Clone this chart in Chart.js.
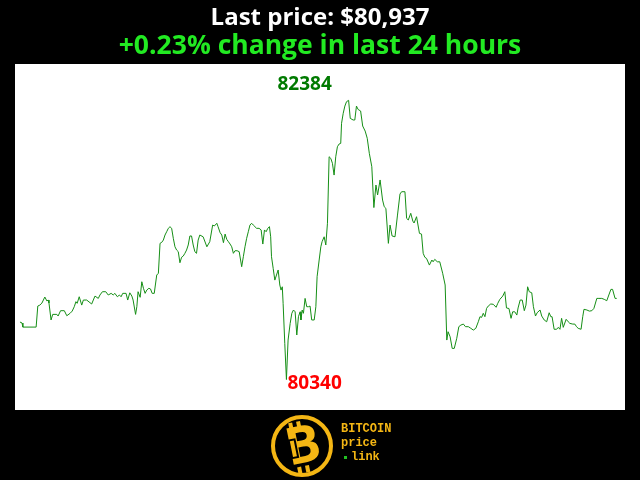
<!DOCTYPE html>
<html>
<head>
<meta charset="utf-8">
<script src="https://cdn.jsdelivr.net/npm/chart.js@4/dist/chart.umd.min.js"></script>
<style>
  html, body { margin: 0; padding: 0; background: #000; }
  #wrap { width: 640px; height: 480px; }
</style>
</head>
<body>
<div id="wrap"><canvas id="priceChart" width="640" height="480"></canvas></div>
<script>
// minutes since start of the 24h window
const minutes = [
    0, 5, 7, 39, 43, 48, 53, 60, 65, 68, 70, 75, 79, 89, 92, 98, 107, 113, 121, 126,
    131, 135, 138, 143, 149, 153, 161, 173, 181, 189, 193, 199, 207, 213, 220, 225, 229, 235, 240, 244,
    248, 256, 260, 265, 270, 273, 279, 282, 285, 290, 294, 298, 302, 306, 311, 315, 319, 324, 330, 334,
    338, 342, 346, 350, 354, 358, 362, 366, 370, 374, 378, 382, 386, 390, 394, 398, 402, 406, 410, 414,
    418, 422, 426, 430, 434, 442, 451, 458, 465, 469, 475, 478, 483, 487, 491, 495, 499, 503, 507, 511,
    515, 519, 524, 529, 535, 539, 543, 547, 551, 555, 559, 563, 567, 571, 577, 582, 586, 590, 594, 598,
    602, 605, 607, 611, 615, 619, 623, 627, 630, 633, 635, 639, 643, 647, 652, 656, 660, 664, 668, 672,
    676, 678, 681, 684, 688, 692, 696, 700, 704, 710, 714, 717, 722, 726, 729, 734, 738, 742, 746, 750,
    754, 758, 762, 766, 770, 774, 776, 780, 784, 788, 793, 797, 804, 808, 812, 816, 822, 827, 833, 838,
    843, 849, 854, 859, 863, 869, 875, 879, 883, 889, 893, 898, 905, 911, 917, 921, 929, 933, 937, 943,
    948, 951, 957, 964, 969, 973, 977, 981, 988, 994, 997, 1001, 1007, 1013, 1020, 1026, 1030, 1033, 1038, 1043,
    1048, 1054, 1059, 1064, 1070, 1075, 1082, 1088, 1094, 1100, 1106, 1110, 1114, 1118, 1122, 1126, 1130, 1136, 1142, 1149,
    1153, 1158, 1165, 1170, 1174, 1180, 1185, 1189, 1194, 1199, 1202, 1207, 1212, 1217, 1221, 1225, 1229, 1235, 1239, 1244,
    1248, 1255, 1259, 1265, 1271, 1277, 1281, 1284, 1289, 1295, 1299, 1303, 1307, 1311, 1318, 1323, 1327, 1334, 1339, 1343,
    1347, 1354, 1358, 1361, 1368, 1374, 1380, 1385, 1392, 1397, 1404, 1410, 1416, 1421, 1426, 1430, 1436, 1440
];

// BTC price in USD
const prices = [
    80761, 80754, 80724, 80724, 80878, 80885, 80900, 80944, 80915, 80922, 80900, 80776, 80817, 80817, 80805, 80844, 80844, 80807, 80825, 80841,
    80873, 80910, 80898, 80946, 80885, 80922, 80922, 80893, 80951, 80934, 80959, 80983, 80983, 80959, 80971, 80959, 80971, 80946, 80959, 80946,
    80971, 80971, 80922, 80975, 80951, 80922, 80817, 80873, 80983, 80942, 81056, 81008, 80971, 80995, 81008, 81003, 80971, 80971, 81105, 81118,
    81337, 81344, 81361, 81398, 81422, 81447, 81459, 81447, 81374, 81312, 81288, 81276, 81195, 81235, 81244, 81264, 81288, 81325, 81391, 81391,
    81325, 81276, 81264, 81361, 81398, 81385, 81312, 81349, 81471, 81464, 81484, 81459, 81415, 81398, 81342, 81405, 81366, 81349, 81332, 81312,
    81264, 81283, 81283, 81276, 81166, 81239, 81312, 81374, 81422, 81471, 81484, 81471, 81459, 81447, 81447, 81435, 81332, 81435, 81422, 81447,
    81459, 81385, 81239, 81154, 81068, 81105, 81142, 81032, 80995, 81019, 80898, 80605, 80340, 80629, 80751, 80825, 80849, 80836, 80666, 80800,
    80836, 80776, 80849, 80825, 80934, 80873, 80873, 80878, 80776, 80776, 80873, 81093, 81215, 81312, 81349, 81385, 81325, 81484, 81971, 81959,
    81923, 81837, 81971, 82044, 82064, 82069, 82216, 82289, 82342, 82374, 82384, 82252, 82240, 82240, 82342, 82317, 82306, 82196, 82159, 82106,
    81996, 81898, 81599, 81764, 81691, 81801, 81654, 81605, 81593, 81337, 81471, 81391, 81385, 81544, 81698, 81715, 81715, 81520, 81508, 81557,
    81500, 81486, 81532, 81410, 81405, 81264, 81235, 81227, 81178, 81215, 81202, 81220, 81202, 81202, 81118, 81032, 80629, 80690, 80653, 80568,
    80568, 80642, 80727, 80739, 80746, 80727, 80727, 80715, 80702, 80715, 80763, 80800, 80795, 80825, 80800, 80861, 80878, 80893, 80891, 80869,
    80898, 80927, 80951, 80983, 80864, 80860, 80788, 80836, 80836, 80812, 80864, 80922, 80922, 80844, 80885, 81019, 80983, 80975, 80873, 80805,
    80829, 80849, 80805, 80776, 80763, 80829, 80800, 80800, 80708, 80708, 80722, 80708, 80788, 80722, 80781, 80763, 80751, 80746, 80746, 80727,
    80715, 80708, 80800, 80854, 80849, 80841, 80844, 80861, 80934, 80934, 80934, 80927, 80917, 80959, 81000, 81000, 80934, 80934
];

const titleText = 'Last price: $80,937';
const subtitleText = '+0.23% change in last 24 hours';

Chart.defaults.font.family = "'Open Sans', sans-serif";

// black page, white plot box
const backgroundPlugin = {
    id: 'background',
    beforeDraw(chart) {
        const { ctx, chartArea } = chart;
        ctx.save();
        ctx.fillStyle = '#000000';
        ctx.fillRect(0, 0, chart.width, chart.height);
        ctx.fillStyle = '#ffffff';
        ctx.fillRect(chartArea.left, chartArea.top, chartArea.right - chartArea.left, chartArea.bottom - chartArea.top);
        ctx.restore();
    }
};

// high / low labels
const extremesPlugin = {
    id: 'extremes',
    afterDatasetsDraw(chart) {
        const { ctx, scales } = chart;
        let hi = 0, lo = 0;
        prices.forEach((p, i) => {
            if (p > prices[hi]) hi = i;
            if (p < prices[lo]) lo = i;
        });
        ctx.save();
        ctx.font = "bold 19px 'Open Sans', sans-serif";
        ctx.textBaseline = 'middle';

        ctx.fillStyle = '#007a00';
        ctx.textAlign = 'center';
        ctx.fillText(String(prices[hi]), scales.x.getPixelForValue(minutes[hi]) - 44, scales.y.getPixelForValue(prices[hi]) - 16);

        ctx.fillStyle = '#ff0000';
        ctx.textAlign = 'left';
        ctx.fillText(String(prices[lo]), scales.x.getPixelForValue(minutes[lo]) + 1, scales.y.getPixelForValue(prices[lo]) + 4);
        ctx.restore();
    }
};

// logo under the chart
const logoPlugin = {
    id: 'logo',
    afterDraw(chart) {
        const ctx = chart.ctx;
        const gold = '#f4b614';
        const cx = 302, cy = 446;
        ctx.save();
        ctx.strokeStyle = gold;
        ctx.lineWidth = 4;
        ctx.beginPath();
        ctx.arc(cx, cy, 29, 0, Math.PI * 2);
        ctx.stroke();

        ctx.translate(cx, cy);
        ctx.rotate(-0.2);
        ctx.fillStyle = gold;
        ctx.font = "bold 52px 'Open Sans', sans-serif";
        ctx.textAlign = 'center';
        ctx.textBaseline = 'middle';
        ctx.fillText('B', 1, 2);
        ctx.fillRect(-9, -25, 4, 7);
        ctx.fillRect(-1, -25, 4, 7);
        ctx.fillRect(-9, 20, 4, 7);
        ctx.fillRect(-1, 20, 4, 7);
        ctx.strokeStyle = '#000000';
        ctx.lineWidth = 2;
        ctx.strokeRect(-12, -8, 6, 18);
        ctx.restore();

        ctx.save();
        ctx.fillStyle = gold;
        ctx.font = "bold 12px 'Liberation Mono', monospace";
        ctx.textBaseline = 'middle';
        ctx.textAlign = 'left';
        ctx.fillText('BITCOIN', 341, 429);
        ctx.fillText('price', 341, 443);
        ctx.fillText('link', 351, 457);
        ctx.fillStyle = '#22c022';
        ctx.fillRect(344, 456, 3, 3);
        ctx.restore();
    }
};

new Chart(document.getElementById('priceChart'), {
    type: 'line',
    data: {
        datasets: [{
            data: minutes.map((m, i) => ({ x: m, y: prices[i] })),
            borderColor: '#168f16',
            borderWidth: 1,
            pointRadius: 0,
            tension: 0,
            fill: false
        }]
    },
    options: {
        responsive: false,
        animation: false,
        layout: {
            padding: { left: 15, right: 15, top: 0, bottom: 70 }
        },
        scales: {
            x: { type: 'linear', min: -12, max: 1460, display: false },
            y: { min: 80117, max: 82650, display: false }
        },
        plugins: {
            legend: { display: false },
            tooltip: { enabled: false },
            title: {
                display: true,
                text: titleText,
                color: '#ffffff',
                font: { size: 24, weight: 'bold', lineHeight: 1.2 },
                padding: { top: 4, bottom: 0 }
            },
            subtitle: {
                display: true,
                text: subtitleText,
                color: '#22ea22',
                font: { size: 26.5, weight: 'bold', lineHeight: 1.0 },
                padding: { top: 0, bottom: 4.7 }
            }
        }
    },
    plugins: [backgroundPlugin, extremesPlugin, logoPlugin]
});
</script>
</body>
</html>
